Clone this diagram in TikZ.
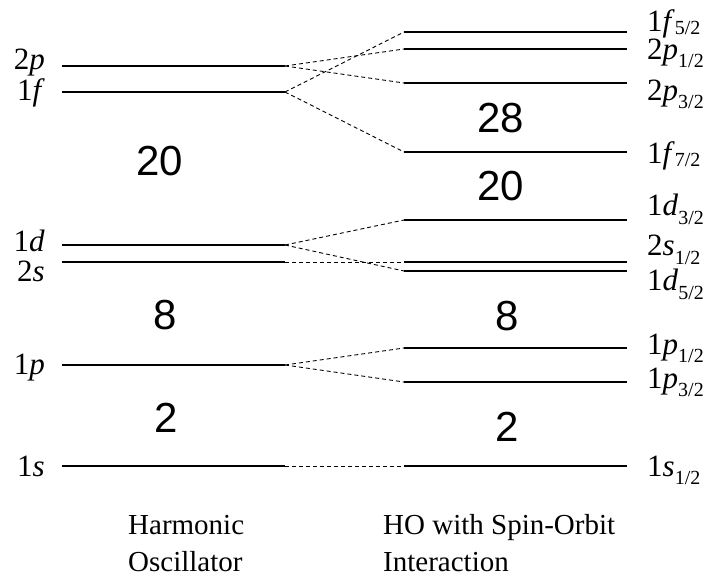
\documentclass[tikz,border=0pt]{standalone}
\usepackage{fontspec}
\setmainfont{Liberation Serif}
\newfontfamily\numfont{Liberation Sans}
\newcommand{\stl}[4][8pt]{#2\textit{#3}\raisebox{-#1}{\fontsize{20}{20}\selectfont #4}}
\tikzset{
  levelline/.style={line width=2.4pt},
  conn/.style={line width=0.9pt, dash pattern=on 4pt off 3pt},
  lbl/.style={inner sep=0pt, font=\fontsize{31}{31}\selectfont},
  shellnum/.style={inner sep=0pt, font=\numfont\fontsize{42}{42}\selectfont},
  caption/.style={inner sep=0pt, align=left, font=\fontsize{29}{37}\selectfont},
}
\begin{document}
\begin{tikzpicture}[x=1pt,y=-1pt]
\useasboundingbox (0,0) rectangle (705,586);
% left (harmonic oscillator) levels
\coordinate (A2pW) at (62,66);   \coordinate (A2pE) at (285,66);
\coordinate (A1fW) at (62,92);   \coordinate (A1fE) at (285,92);
\coordinate (A1dW) at (62,245);  \coordinate (A1dE) at (285,245);
\coordinate (A2sW) at (62,262);  \coordinate (A2sE) at (285,262);
\coordinate (A1pW) at (62,365);  \coordinate (A1pE) at (285,365);
\coordinate (A1sW) at (62,466);  \coordinate (A1sE) at (285,466);
% right (spin-orbit) levels
\coordinate (B1f5W) at (404,32);  \coordinate (B1f5E) at (627,32);
\coordinate (B2p1W) at (404,49);  \coordinate (B2p1E) at (627,49);
\coordinate (B2p3W) at (404,83);  \coordinate (B2p3E) at (627,83);
\coordinate (B1f7W) at (404,152); \coordinate (B1f7E) at (627,152);
\coordinate (B1d3W) at (404,220); \coordinate (B1d3E) at (627,220);
\coordinate (B2s1W) at (404,262); \coordinate (B2s1E) at (627,262);
\coordinate (B1d5W) at (404,271); \coordinate (B1d5E) at (627,271);
\coordinate (B1p1W) at (404,348); \coordinate (B1p1E) at (627,348);
\coordinate (B1p3W) at (404,382); \coordinate (B1p3E) at (627,382);
\coordinate (B1s1W) at (404,466); \coordinate (B1s1E) at (627,466);

\foreach \n in {A2p,A1f,A1d,A2s,A1p,A1s,B1f5,B2p1,B2p3,B1f7,B1d3,B2s1,B1d5,B1p1,B1p3,B1s1}
  \draw[levelline] (\n W) -- (\n E);

% connectors
\draw[conn] (A2pE) -- (B2p1W);
\draw[conn] (A2pE) -- (B2p3W);
\draw[conn] (A1fE) -- (B1f5W);
\draw[conn] (A1fE) -- (B1f7W);
\draw[conn] (A1dE) -- (B1d3W);
\draw[conn] (A1dE) -- (B1d5W);
\draw[conn] (A2sE) -- (B2s1W);
\draw[conn] (A1pE) -- (B1p1W);
\draw[conn] (A1pE) -- (B1p3W);
\draw[conn] (A1sE) -- (B1s1W);

% left labels
\node[lbl, anchor=base east] (l2p) at (45,70)  {2\textit{p}};
\node[lbl, anchor=base east] (l1f) at (45,100) {1\textit{f}};
\node[lbl, anchor=base east] (l1d) at (45,251) {1\textit{d}};
\node[lbl, anchor=base east] (l2s) at (45,281) {2\textit{s}};
\node[lbl, anchor=base east] (l1p) at (45,374) {1\textit{p}};
\node[lbl, anchor=base east] (l1s) at (45,476) {1\textit{s}};

% right labels
\node[lbl, anchor=base west] (r1f5) at (647,32)  {\stl[3pt]{1}{f}{5/2}};
\node[lbl, anchor=base west] (r2p1) at (647,60)  {\stl{2}{p}{1/2}};
\node[lbl, anchor=base west] (r2p3) at (647,100) {\stl[9pt]{2}{p}{3/2}};
\node[lbl, anchor=base west] (r1f7) at (647,163) {\stl[4pt]{1}{f}{7/2}};
\node[lbl, anchor=base west] (r1d3) at (647,215) {\stl[9pt]{1}{d}{3/2}};
\node[lbl, anchor=base west] (r2s1) at (647,255) {\stl[9pt]{2}{s}{1/2}};
\node[lbl, anchor=base west] (r1d5) at (647,290) {\stl[9pt]{1}{d}{5/2}};
\node[lbl, anchor=base west] (r1p1) at (647,354) {\stl{1}{p}{1/2}};
\node[lbl, anchor=base west] (r1p3) at (647,388) {\stl{1}{p}{3/2}};
\node[lbl, anchor=base west] (r1s1) at (647,476) {\stl{1}{s}{1/2}};

% magic numbers
\node[shellnum] (n20a) at (160,161) {20};
\node[shellnum] (n8a)  at (165,315) {8};
\node[shellnum] (n2a)  at (166,418) {2};
\node[shellnum] (n28b) at (501,118) {28};
\node[shellnum] (n20b) at (501,186) {20};
\node[shellnum] (n8b)  at (507,316) {8};
\node[shellnum] (n2b)  at (507,427) {2};

% captions
\node[caption, anchor=base west] (capA) at (128,571) {Harmonic\\Oscillator};
\node[caption, anchor=base west] (capB) at (383,571) {HO with Spin-Orbit\\Interaction};
\end{tikzpicture}
\end{document}
